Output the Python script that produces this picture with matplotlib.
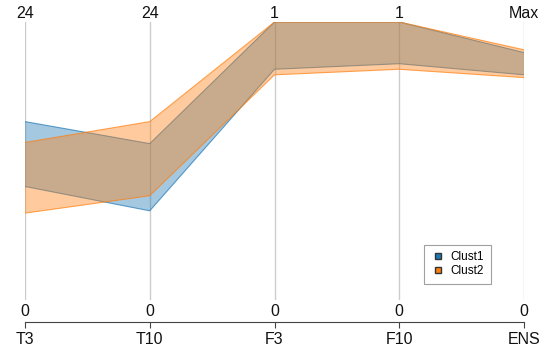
import numpy as np
import matplotlib.pyplot as plt

plt.rcParams['font.family'] = ['Liberation Sans', 'DejaVu Sans']

# axes of the parallel plot
dims = ["T3", "T10", "F3", "F10", "ENS"]
top_labels = ["24", "24", "1", "1", "Max"]
bottom_labels = ["0", "0", "0", "0", "0"]
dim_max = [24, 24, 1, 1, 1]

# band limits per cluster (raw values)
clust1_low = [9.8, 7.7, 0.83, 0.85, 0.81]
clust1_high = [15.4, 13.5, 1.0, 1.0, 0.89]
clust2_low = [7.5, 9.0, 0.81, 0.83, 0.80]
clust2_high = [13.6, 15.4, 1.0, 1.0, 0.90]

x = np.arange(len(dims))
mx = np.array(dim_max, dtype=float)

fig = plt.figure(figsize=(5.49, 3.54), dpi=100)
ax = fig.add_axes([25/549, 54/354, 499/549, 278/354])
ax.set_xlim(0, 4)
ax.set_ylim(0, 1)

for xi in x:
    ax.plot([xi, xi], [0, 1], color="#cccccc", lw=1, zorder=0)

blue = "#1f77b4"
orange = "#ff7f0e"
ax.fill_between(x, np.array(clust1_low)/mx, np.array(clust1_high)/mx,
                facecolor=blue, alpha=0.4, edgecolor="none", zorder=2)
ax.plot(x, np.array(clust1_low)/mx, color=blue, lw=0.8, alpha=0.7, zorder=2)
ax.plot(x, np.array(clust1_high)/mx, color=blue, lw=0.8, alpha=0.7, zorder=2)
ax.fill_between(x, np.array(clust2_low)/mx, np.array(clust2_high)/mx,
                facecolor=orange, alpha=0.4, edgecolor="none", zorder=3)
ax.plot(x, np.array(clust2_low)/mx, color=orange, lw=0.8, alpha=0.7, zorder=3)
ax.plot(x, np.array(clust2_high)/mx, color=orange, lw=0.8, alpha=0.7, zorder=3)

for xi, t, b in zip(x, top_labels, bottom_labels):
    ax.text(xi, 1.03, t, ha="center", va="center", fontsize=11.5, color="#111111")
    ax.text(xi, -0.04, b, ha="center", va="center", fontsize=11.5, color="#111111")

for s in ["top", "left", "right"]:
    ax.spines[s].set_visible(False)
ax.spines["bottom"].set_position(("outward", 15.8))
ax.spines["bottom"].set_color("#444444")
ax.set_yticks([])
ax.set_xticks(x)
ax.set_xticklabels(dims, fontsize=11.5, color="#111111")
ax.tick_params(axis="x", direction="out", length=4, color="#444444", pad=3.5)

h1 = plt.Line2D([], [], marker="s", ls="none", markerfacecolor=blue,
                markeredgecolor="#333333", markersize=5, label="Clust1")
h2 = plt.Line2D([], [], marker="s", ls="none", markerfacecolor=orange,
                markeredgecolor="#333333", markersize=5, label="Clust2")
leg = fig.legend(handles=[h1, h2], loc="upper left", bbox_to_anchor=(424/549, 1 - 245/354),
                 fontsize=8.5, frameon=True, fancybox=False, handletextpad=0.5,
                 borderpad=0.55, handlelength=1.2, labelspacing=0.15, borderaxespad=0)
leg.get_frame().set_edgecolor("#888888")
leg.get_frame().set_linewidth(0.8)

fig.savefig("out.png", dpi=100)
